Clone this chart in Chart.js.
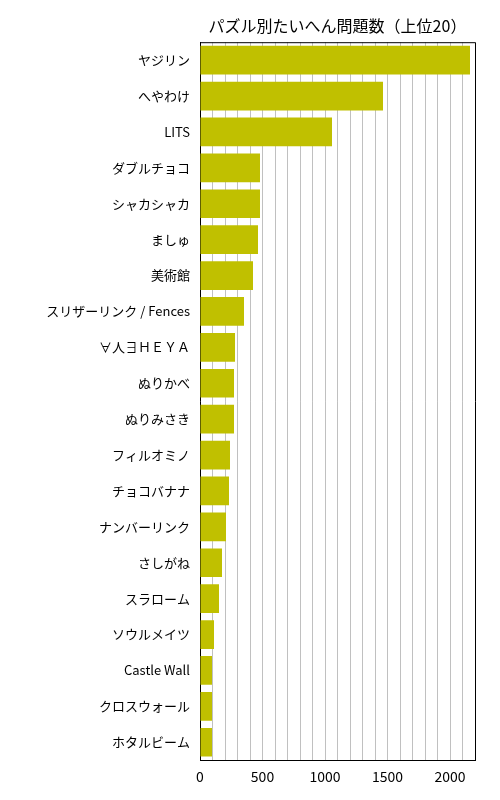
<!DOCTYPE html>
<html>
<head>
<meta charset="utf-8">
<script src="https://cdn.jsdelivr.net/npm/chart.js@4/dist/chart.umd.min.js"></script>
<style>
  html, body { margin: 0; padding: 0; background: #ffffff; }
  #wrap { width: 500px; height: 800px; }
</style>
</head>
<body>
<div id="wrap"><canvas id="c" width="500" height="800"></canvas></div>
<script>
const titleText = "パズル別たいへん問題数（上位20）";
const categories = [
  "ヤジリン", "へやわけ", "LITS", "ダブルチョコ", "シャカシャカ",
  "ましゅ", "美術館", "スリザーリンク / Fences", "∀人∃ＨＥＹＡ", "ぬりかべ",
  "ぬりみさき", "フィルオミノ", "チョコバナナ", "ナンバーリンク", "さしがね",
  "スラローム", "ソウルメイツ", "Castle Wall", "クロスウォール", "ホタルビーム"
];
const counts = [
  2160, 1464, 1056, 480, 480,
  464, 424, 352, 280, 272,
  272, 240, 232, 208, 176,
  152, 112, 96, 96, 96
];
const xMin = 0;
const xMax = 2200;
const gridStep = 100;
const labelStep = 500;

const FONT = "'Liberation Sans Narrow', 'Noto Sans CJK JP', sans-serif";

const framePlugin = {
  id: 'frame',
  beforeDatasetsDraw(chart) {
    const a = chart.chartArea;
    const ctx = chart.ctx;
    ctx.save();
    ctx.strokeStyle = '#000000';
    ctx.lineWidth = 1;
    ctx.beginPath();
    ctx.moveTo(a.left, a.top + 0.5);
    ctx.lineTo(a.right + 0.5, a.top + 0.5);
    ctx.lineTo(a.right + 0.5, a.bottom);
    ctx.stroke();
    ctx.restore();
  }
};

new Chart(document.getElementById('c'), {
  type: 'bar',
  data: {
    labels: categories,
    datasets: [{
      data: counts,
      backgroundColor: 'rgb(192,192,0)',
      borderWidth: 0,
      barPercentage: 0.8,
      categoryPercentage: 1.0
    }]
  },
  options: {
    indexAxis: 'y',
    responsive: false,
    animation: false,
    layout: { padding: { top: 6, right: 25, bottom: 7, left: 0 } },
    plugins: {
      legend: { display: false },
      tooltip: { enabled: false },
      title: {
        display: true,
        text: titleText,
        fullSize: false,
        color: '#000000',
        font: { family: "'Noto Sans CJK JP', sans-serif", size: 16, weight: 'normal', lineHeight: 1.2 },
        padding: { top: 10, bottom: 7 }
      }
    },
    scales: {
      x: {
        type: 'linear',
        min: xMin,
        max: xMax,
        grid: { color: '#c0c0c0', lineWidth: 1, drawTicks: false },
        border: { display: true, color: '#000000', width: 1 },
        ticks: {
          stepSize: gridStep,
          autoSkip: false,
          maxRotation: 0,
          padding: 8,
          color: '#000000',
          font: { family: FONT, size: 14 },
          callback: (v) => (v % labelStep === 0 ? String(v) : '')
        }
      },
      y: {
        type: 'category',
        grid: { display: false, drawTicks: false },
        border: { display: true, color: '#000000', width: 1 },
        ticks: {
          autoSkip: false,
          padding: 10,
          color: '#000000',
          font: { family: FONT, size: 13 }
        },
        afterFit: (s) => { s.width = 200; }
      }
    }
  },
  plugins: [framePlugin]
});
</script>
</body>
</html>
